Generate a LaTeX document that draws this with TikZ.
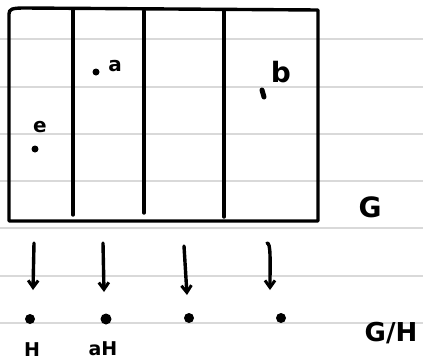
\documentclass[tikz,border=0pt]{standalone}
\usepackage{fontspec}
\setmainfont{DejaVu Sans}
\usetikzlibrary{arrows.meta}
\begin{document}
\begin{tikzpicture}[x=1pt,y=-1pt,
  rule/.style={draw=black!15,line width=1.4pt},
  ink/.style={draw=black,line width=3.4pt,line cap=round,line join=round},
  pt/.style={circle,fill=black,inner sep=0pt,minimum size=10pt},
  down/.style={ink,-{Straight Barb[length=7pt,width=10pt,line width=3pt]}},
  lbl/.style={inner sep=0pt,font=\bfseries\fontsize{20}{22}\selectfont},
  slbl/.style={inner sep=0pt,font=\bfseries\fontsize{19}{21}\selectfont}]
\useasboundingbox (0,0) rectangle (423,362);
\fill[white] (0,0) rectangle (423,362);
% notebook rules
\foreach \yy in {39,87,134,181,228,276,323} \draw[rule] (0,\yy) -- (423,\yy);
% group rectangle and cosets
\draw[ink] (9,14) .. controls (9,9) and (12,8) .. (25,8) -- (318,10) -- (318,221) -- (9,221) -- cycle;
\coordinate (v1t) at (73,10); \coordinate (v1b) at (73,215);
\coordinate (v2t) at (144,11); \coordinate (v2b) at (144,213);
\coordinate (v3t) at (224,11); \coordinate (v3b) at (224,217);
\draw[ink] (v1t) -- (v1b);
\draw[ink] (v2t) -- (v2b);
\draw[ink] (v3t) -- (v3b);
% elements
\node[pt,minimum size=7pt] (de) at (35,149) {};
\node[lbl] (le) at (40,127) {e};
\node[pt,minimum size=7pt] (da) at (96,72) {};
\node[lbl] (la) at (115,66) {a};
\draw[ink,line width=5pt] (262,90) -- (264,97);
\coordinate (db) at (263,93);
\node[lbl,font=\bfseries\fontsize{28}{30}\selectfont] (lb) at (281,72) {b};
\node[lbl,font=\bfseries\fontsize{28}{30}\selectfont] (lG) at (370,207) {G};
% arrows
\coordinate (a1t) at (34,243); \coordinate (a1b) at (33,290);
\coordinate (a2t) at (103,243); \coordinate (a2b) at (104,292);
\coordinate (a3t) at (184,246); \coordinate (a3b) at (187,295);
\coordinate (a4t) at (267,243); \coordinate (a4b) at (270,290);
\draw[down] (a1t) -- (a1b);
\draw[down] (a2t) -- (a2b);
\draw[down] (a3t) -- (a3b);
\draw[down] (a4t) .. controls (271,243) and (270,260) .. (a4b);
% quotient points
\node[pt] (q1) at (30,319) {};
\node[pt,minimum size=11pt] (q2) at (106,319) {};
\node[pt] (q3) at (189,318) {};
\node[pt] (q4) at (281,318) {};
\node[slbl] (lH) at (32,350) {H};
\node[slbl] (laH) at (103,349) {aH};
\node[lbl,font=\bfseries\fontsize{26}{28}\selectfont] (lGH) at (391,333) {G/H};
\end{tikzpicture}
\end{document}
